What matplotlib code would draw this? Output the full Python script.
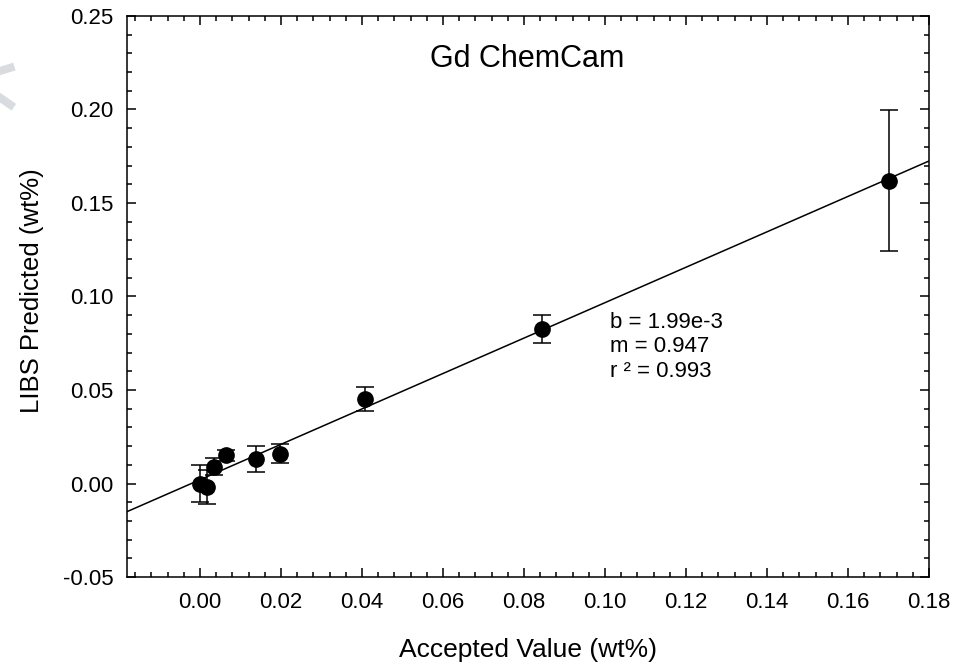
import matplotlib
matplotlib.use("Agg")
import matplotlib.pyplot as plt
import numpy as np
from matplotlib.ticker import MultipleLocator, FormatStrFormatter

plt.rcParams['font.family'] = ['Liberation Sans', 'DejaVu Sans']

# accepted vs predicted Gd (wt%)
accepted = [0.0, 0.0017, 0.0035, 0.0065, 0.0138, 0.0198, 0.0408, 0.0845, 0.170]
predicted = [0.0, -0.002, 0.009, 0.015, 0.013, 0.016, 0.0450, 0.0828, 0.1620]
pred_err = [0.0098, 0.009, 0.0045, 0.003, 0.007, 0.005, 0.0065, 0.0075, 0.0377]

intercept = 1.99e-3
slope = 0.947
fit_lines = ["b = 1.99e-3", "m = 0.947", "r ² = 0.993"]

fig = plt.figure(figsize=(9.57, 6.64), dpi=100)
ax = fig.add_axes([0.1327, 0.131, 0.8381, 0.845])

xlim = (-0.018, 0.18)
ylim = (-0.05, 0.25)

xs = np.array(xlim)
ax.plot(xs, intercept + slope * xs, color='black', lw=1.1, zorder=2)

ax.errorbar(accepted, predicted, yerr=pred_err, fmt='o', color='black',
            ms=11, elinewidth=1.1, capsize=6.5, capthick=1.1, zorder=3)

ax.set_xlim(*xlim)
ax.set_ylim(*ylim)
ax.xaxis.set_major_locator(MultipleLocator(0.02))
ax.xaxis.set_minor_locator(MultipleLocator(0.004))
ax.yaxis.set_major_locator(MultipleLocator(0.05))
ax.yaxis.set_minor_locator(MultipleLocator(0.01))
ax.xaxis.set_major_formatter(FormatStrFormatter('%.2f'))
ax.yaxis.set_major_formatter(FormatStrFormatter('%.2f'))
ax.tick_params(which='both', direction='in', top=True, right=True,
               labelsize=16, width=1.1)
ax.tick_params(which='major', length=6.5)
ax.tick_params(axis='y', which='major', pad=9.5)
ax.tick_params(axis='x', which='major', pad=11)
ax.tick_params(which='minor', length=3.5)
for s in ax.spines.values():
    s.set_linewidth(1.1)

ax.set_xlabel("Accepted Value (wt%)", fontsize=19, labelpad=18)
ax.set_ylabel("LIBS Predicted (wt%)", fontsize=18.5, labelpad=14)
ax.yaxis.label.set_y(0.51)

ax.text(0.0808, 0.2227, "Gd ChemCam", fontsize=22, ha='center', va='baseline')
for i, line in enumerate(fit_lines):
    ax.annotate(line, (0.1013, 0.0832), xytext=(0, -17.6 * i),
                textcoords='offset points', fontsize=16, ha='left', va='baseline')

# faint watermark fragment at top-left edge
fig.lines.append(plt.Line2D([0.0, 0.011], [0.893, 0.898], transform=fig.transFigure,
                            color='#d8dbdf', lw=5.8))
fig.lines.append(plt.Line2D([0.0, 0.011], [0.853, 0.842], transform=fig.transFigure,
                            color='#d8dbdf', lw=5.8))

fig.savefig("out.png", dpi=100)
